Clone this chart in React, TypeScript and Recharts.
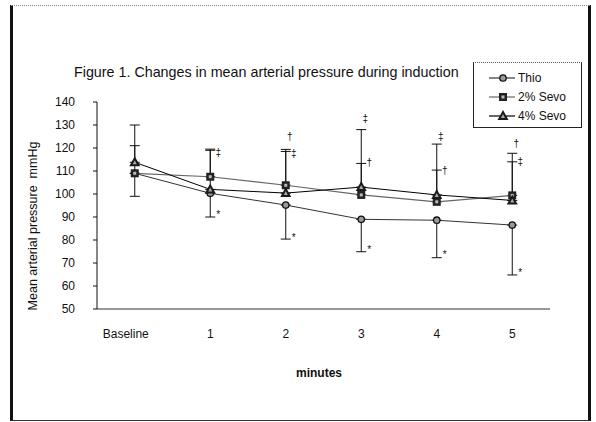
import { ComposedChart, Line, XAxis, YAxis, ErrorBar, ReferenceDot } from 'recharts'

// minutes after induction
const TIMES = ['Baseline', '1', '2', '3', '4', '5']

// mean arterial pressure, mmHg
const THIO = [109, 100.3, 95.2, 89, 88.6, 86.5]
const SEVO2 = [109, 107.5, 103.8, 99.6, 96.6, 99.4]
const SEVO4 = [113.8, 102, 100.4, 103, 99.6, 97.2]

// one-sided SD bars (Thio down, Sevo up)
const THIO_SD = [10, 10.3, 14.8, 14.1, 16.3, 21.7]
const SEVO2_SD = [12, 12, 14.7, 13.7, 13.8, 14.6]
const SEVO4_SD = [16.2, 17, 19, 25, 22.1, 20.5]

const Y_TICKS = [50, 60, 70, 80, 90, 100, 110, 120, 130, 140]

const SERIES = ['Thio', '2% Sevo', '4% Sevo']

// significance marks next to the bars
const MARKS = [
  { time: '1', value: 118, text: '‡', kind: 'side' },
  { time: '1', value: 90.9, text: '*', kind: 'side' },
  { time: '2', value: 125, text: '†', kind: 'top' },
  { time: '2', value: 117.8, text: '‡', kind: 'side' },
  { time: '2', value: 81, text: '*', kind: 'side' },
  { time: '3', value: 133, text: '‡', kind: 'top' },
  { time: '3', value: 113.9, text: '†', kind: 'side' },
  { time: '3', value: 76, text: '*', kind: 'side' },
  { time: '4', value: 125, text: '‡', kind: 'top' },
  { time: '4', value: 110.4, text: '†', kind: 'side' },
  { time: '4', value: 73.5, text: '*', kind: 'side' },
  { time: '5', value: 122, text: '†', kind: 'top' },
  { time: '5', value: 114, text: '‡', kind: 'side' },
  { time: '5', value: 66, text: '*', kind: 'side' },
]

const rows = TIMES.map((t, i) => ({
  time: t,
  thio: THIO[i],
  thioErr: [THIO_SD[i], 0],
  sevo2: SEVO2[i],
  sevo2Err: [0, SEVO2_SD[i]],
  sevo4: SEVO4[i],
  sevo4Err: [0, SEVO4_SD[i]],
}))

function CircleMark({ cx, cy }: { cx: number; cy: number }) {
  return <circle cx={cx} cy={cy} r={3.2} fill="#999" stroke="#111" strokeWidth={1.3} />
}

function SquareMark({ cx, cy }: { cx: number; cy: number }) {
  return (
    <g>
      <rect x={cx - 4} y={cy - 4} width={8} height={8} fill="#222" />
      <rect x={cx - 1.5} y={cy - 1.5} width={3} height={3} fill="#bbb" />
    </g>
  )
}

function TriangleMark({ cx, cy }: { cx: number; cy: number }) {
  return (
    <g>
      <polygon points={`${cx},${cy - 6} ${cx + 5.5},${cy + 4} ${cx - 5.5},${cy + 4}`} fill="#1a1a1a" />
      <polygon points={`${cx},${cy - 2} ${cx + 2},${cy + 2} ${cx - 2},${cy + 2}`} fill="#aaa" />
    </g>
  )
}

const MARKERS = [CircleMark, SquareMark, TriangleMark]
const STROKES = ['#333', '#666', '#000']

function XTick(p: any) {
  const shift = p.index === 0 ? -9 : 0
  return (
    <text x={p.x + shift} y={p.y} dy="0.71em" textAnchor="middle" fontSize={12} fill="#111">
      {p.payload.value}
    </text>
  )
}

export default function App() {
  return (
    <div
      style={{
        position: 'absolute', left: 0, top: 0, width: 596, height: 422,
        background: '#fff', fontFamily: '"Liberation Sans", Arial, sans-serif', color: '#111',
      }}
    >
      <div
        style={{
          position: 'absolute', left: 10, top: 5, width: 575, height: 414,
          borderLeft: '3px solid #111', borderRight: '3px solid #111',
          borderTop: '1px dotted #888', borderBottom: '1px solid #333',
        }}
      />
      <div style={{ position: 'absolute', left: 74, top: 64, fontSize: 14.3, whiteSpace: 'nowrap' }}>
        Figure 1. Changes in mean arterial pressure during induction
      </div>
      <div
        style={{
          position: 'absolute', left: 33, top: 226, fontSize: 12.5, whiteSpace: 'pre',
          transform: 'translate(-50%, -50%) rotate(-90deg)',
        }}
      >
        Mean arterial pressure  mmHg
      </div>
      <div
        style={{
          position: 'absolute', left: 319, top: 373, fontSize: 12, fontWeight: 'bold',
          transform: 'translate(-50%, -50%)',
        }}
      >
        minutes
      </div>

      <ComposedChart
        width={596}
        height={422}
        data={rows}
        margin={{ top: 102, right: 46, bottom: 53, left: 37 }}
        style={{ position: 'absolute', left: 0, top: 0 }}
      >
        <XAxis
          dataKey="time"
          height={60}
          padding={{ left: 37.75, right: 37.75 }}
          axisLine={{ stroke: '#333' }}
          tickLine={false}
          tickSize={0}
          tickMargin={20}
          tick={<XTick />}
          interval={0}
        />
        <YAxis
          width={60}
          domain={[50, 140]}
          ticks={Y_TICKS}
          interval={0}
          allowDataOverflow
          axisLine={{ stroke: '#111' }}
          tickLine={{ stroke: '#111' }}
          tickSize={4}
          tickMargin={18}
          tick={{ fontSize: 12, fill: '#111' }}
        />
        <Line
          dataKey="thio"
          stroke={STROKES[0]}
          strokeWidth={1}
          isAnimationActive={false}
          dot={(p: any) => <CircleMark key={p.index} cx={p.cx} cy={p.cy} />}
        >
          <ErrorBar dataKey="thioErr" direction="y" width={5} stroke="#111" strokeWidth={1} />
        </Line>
        <Line
          dataKey="sevo2"
          stroke={STROKES[1]}
          strokeWidth={1.2}
          isAnimationActive={false}
          dot={(p: any) => <SquareMark key={p.index} cx={p.cx} cy={p.cy} />}
        >
          <ErrorBar dataKey="sevo2Err" direction="y" width={5} stroke="#111" strokeWidth={1} />
        </Line>
        <Line
          dataKey="sevo4"
          stroke={STROKES[2]}
          strokeWidth={1}
          isAnimationActive={false}
          dot={(p: any) => <TriangleMark key={p.index} cx={p.cx} cy={p.cy} />}
        >
          <ErrorBar dataKey="sevo4Err" direction="y" width={5} stroke="#111" strokeWidth={1} />
        </Line>
        {MARKS.map((m, i) => (
          <ReferenceDot
            key={i}
            x={m.time}
            y={m.value}
            r={0}
            fill="none"
            stroke="none"
            label={(lp: any) => (
              <text
                x={lp.viewBox.x + (m.kind === 'top' ? 4 : 8)}
                y={lp.viewBox.y}
                dy="0.35em"
                textAnchor="middle"
                fontSize={10}
                fill="#111"
              >
                {m.text}
              </text>
            )}
          />
        ))}
      </ComposedChart>

      <div
        style={{
          position: 'absolute', left: 473, top: 62, width: 107, height: 64,
          border: '1px solid #222', borderTop: '1px dotted #555', background: '#fff',
        }}
      >
        {SERIES.map((name, i) => {
          const Mark = MARKERS[i]
          return (
            <div key={name} style={{ position: 'absolute', left: 0, top: 7 + i * 19, height: 16, width: 107 }}>
              <svg width={44} height={16} style={{ position: 'absolute', left: 15, top: 0 }}>
                <line x1={0} y1={8} x2={26} y2={8} stroke={STROKES[i]} strokeWidth={1.2} />
                <Mark cx={14} cy={8} />
              </svg>
              <span style={{ position: 'absolute', left: 44, top: 0, fontSize: 12, lineHeight: '16px' }}>{name}</span>
            </div>
          )
        })}
      </div>
    </div>
  )
}
